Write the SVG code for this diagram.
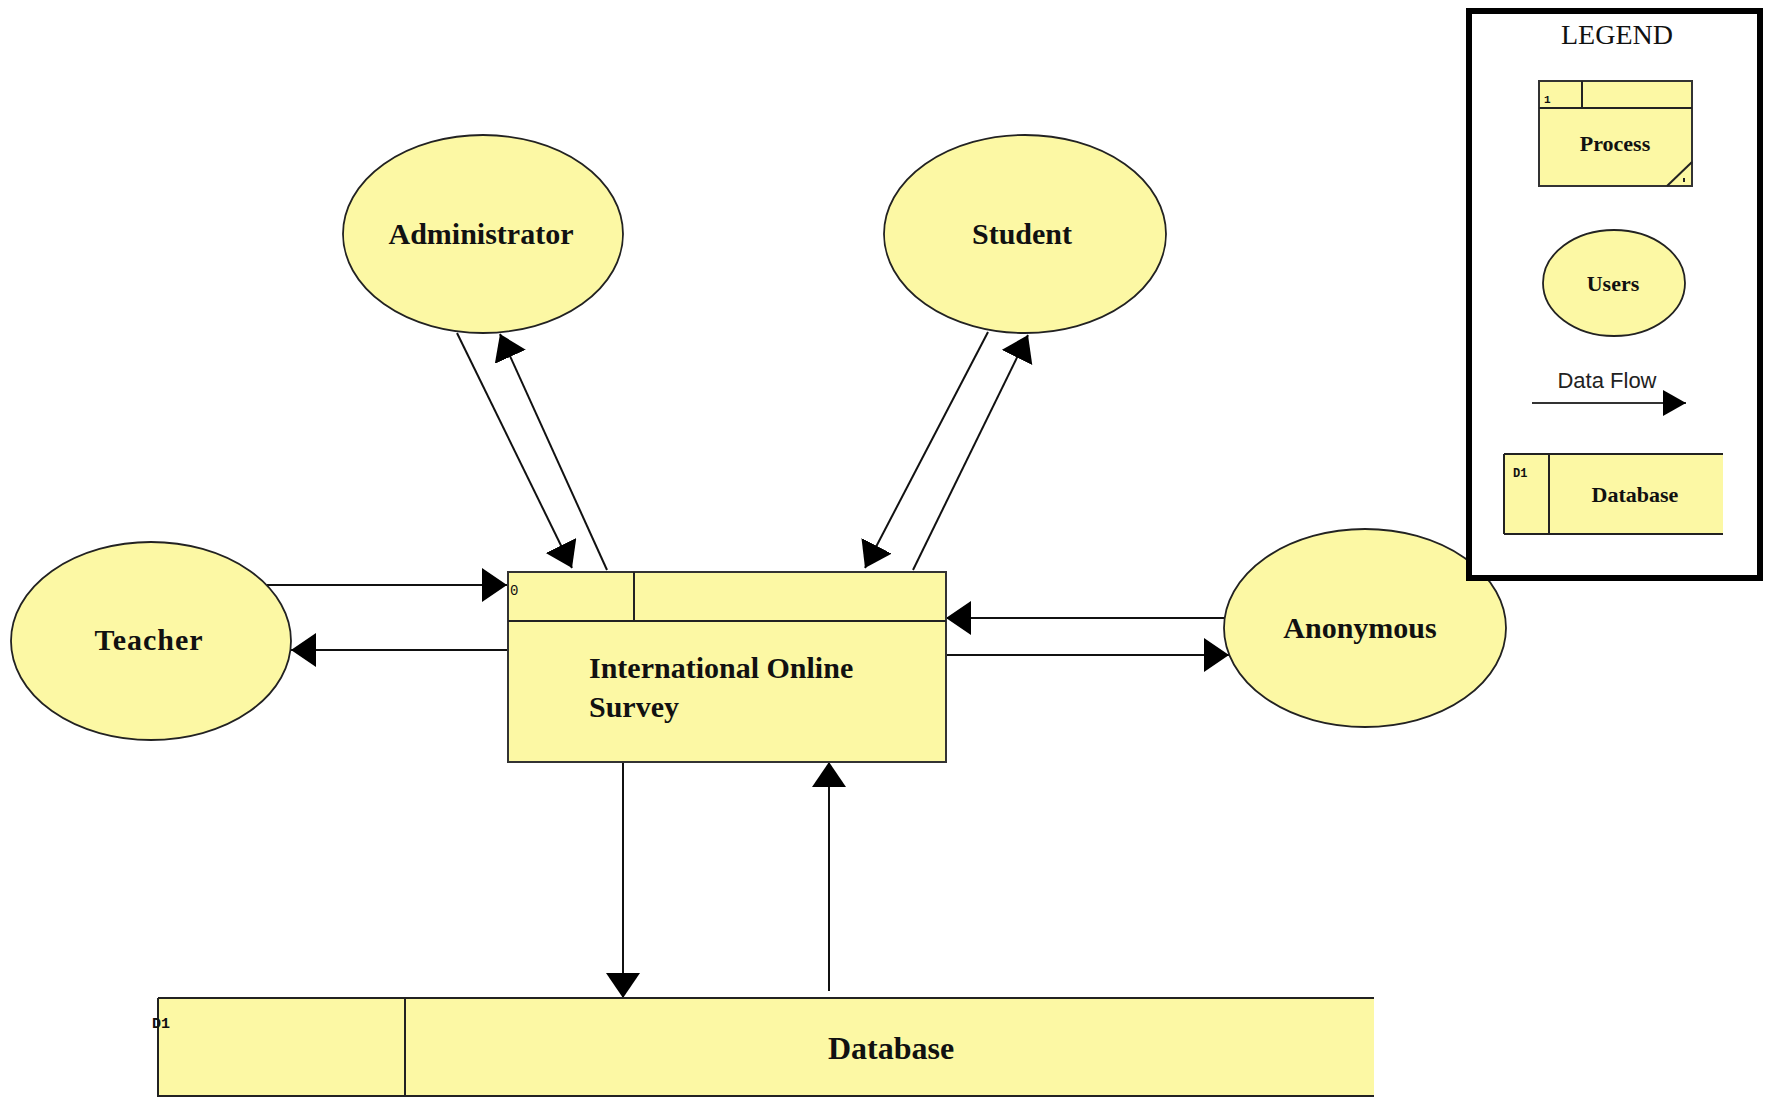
<svg xmlns="http://www.w3.org/2000/svg" width="1766" height="1097" viewBox="0 0 1766 1097">
<style>
.ent{fill:#FCF8A4;stroke:#222;stroke-width:1.8}
.box{fill:#FCF8A4;stroke:#333;stroke-width:2}
.ln{stroke:#222;stroke-width:2;fill:none}
.lbl{font-family:"Liberation Serif",serif;font-weight:bold;font-size:30px;fill:#111;text-anchor:middle}
.lg{font-family:"Liberation Serif",serif;font-weight:bold;font-size:22px;fill:#111;text-anchor:middle}
.mono{font-family:"Liberation Mono",monospace;fill:#111}
.flow{stroke:#111;stroke-width:2;fill:none;marker-end:url(#ah)}
</style>
<defs>
<marker id="ah" markerUnits="userSpaceOnUse" markerWidth="26" markerHeight="36" refX="25" refY="17" orient="auto">
<path d="M0,0 L25,17 L0,34 Z" fill="#000"/>
</marker>
<marker id="ahs" markerUnits="userSpaceOnUse" markerWidth="24" markerHeight="28" refX="23" refY="13" orient="auto">
<path d="M0,0 L23,13 L0,26 Z" fill="#000"/>
</marker>
</defs>
<rect width="1766" height="1097" fill="#fff"/>

<g id="connectors">
<line class="flow" x1="267" y1="585" x2="507" y2="585"/>
<line class="flow" x1="508" y1="650" x2="291" y2="650"/>
<line class="flow" x1="457" y1="333" x2="572" y2="568"/>
<line class="flow" x1="607" y1="570" x2="500" y2="334"/>
<line class="flow" x1="988" y1="332" x2="865" y2="568"/>
<line class="flow" x1="913" y1="570" x2="1028" y2="335"/>
<line class="flow" x1="1225" y1="618" x2="946" y2="618"/>
<line class="flow" x1="946" y1="655" x2="1229" y2="655"/>
<line class="flow" x1="623" y1="762" x2="623" y2="998"/>
<line class="flow" x1="829" y1="991" x2="829" y2="762"/>
</g>

<g id="administrator">
<ellipse class="ent" cx="483" cy="234" rx="140" ry="99"/>
<text class="lbl" x="481" y="244">Administrator</text>
</g>
<g id="student">
<ellipse class="ent" cx="1025" cy="234" rx="141" ry="99"/>
<text class="lbl" x="1022" y="244">Student</text>
</g>
<g id="teacher">
<ellipse class="ent" cx="151" cy="641" rx="140" ry="99"/>
<text class="lbl" x="149" y="650" letter-spacing="1">Teacher</text>
</g>
<g id="anonymous">
<ellipse class="ent" cx="1365" cy="628" rx="141" ry="99"/>
<text class="lbl" x="1360" y="638">Anonymous</text>
</g>

<g id="process">
<rect class="box" x="508" y="572" width="438" height="190"/>
<line class="ln" x1="508" y1="621" x2="946" y2="621"/>
<line class="ln" x1="634" y1="572" x2="634" y2="621"/>
<text class="mono" x="510" y="595" font-size="14">0</text>
<text class="lbl" x="589" y="678" text-anchor="start" style="text-anchor:start">International Online</text>
<text class="lbl" x="589" y="717" style="text-anchor:start">Survey</text>
</g>

<g id="database">
<rect x="158" y="998" width="1216" height="99" fill="#FCF8A4"/>
<line class="ln" x1="158" y1="998" x2="1374" y2="998"/>
<line class="ln" x1="158" y1="998" x2="158" y2="1097"/>
<line class="ln" x1="405" y1="998" x2="405" y2="1097"/>
<line class="ln" x1="158" y1="1096" x2="1374" y2="1096"/>
<text class="mono" x="152" y="1028" font-size="15" font-weight="bold">D1</text>
<text class="lbl" x="891" y="1059" font-size="32" style="font-size:32px">Database</text>
</g>

<g id="legend">
<rect x="1469" y="11" width="291" height="567" fill="#fff" stroke="#000" stroke-width="6"/>
<text x="1617" y="44" font-family="Liberation Serif, serif" font-size="28" fill="#111" text-anchor="middle">LEGEND</text>
<g id="legend-process">
<rect class="box" x="1539" y="81" width="153" height="105" stroke-width="1.8"/>
<line class="ln" x1="1539" y1="108" x2="1692" y2="108" stroke-width="1.8"/>
<line class="ln" x1="1582" y1="81" x2="1582" y2="108" stroke-width="1.8"/>
<text class="mono" x="1544" y="103" font-size="11" font-weight="bold">1</text>
<text class="lg" x="1615" y="151">Process</text>
<line class="ln" x1="1667" y1="186" x2="1692" y2="162" stroke-width="1.2"/>
<line class="ln" x1="1684" y1="178" x2="1684" y2="182" stroke-width="1"/>
</g>
<g id="legend-users">
<ellipse class="ent" cx="1614" cy="283" rx="71" ry="53"/>
<text class="lg" x="1613" y="291">Users</text>
</g>
<g id="legend-flow">
<text x="1607" y="388" font-family="Liberation Sans, sans-serif" font-size="22" fill="#222" text-anchor="middle">Data Flow</text>
<line x1="1532" y1="403" x2="1686" y2="403" stroke="#333" stroke-width="2" marker-end="url(#ahs)"/>
</g>
<g id="legend-database">
<rect x="1504" y="454" width="219" height="80" fill="#FCF8A4"/>
<line class="ln" x1="1504" y1="454" x2="1723" y2="454" stroke-width="1.8"/>
<line class="ln" x1="1504" y1="534" x2="1723" y2="534" stroke-width="1.8"/>
<line class="ln" x1="1504" y1="454" x2="1504" y2="534" stroke-width="1.8"/>
<line class="ln" x1="1549" y1="454" x2="1549" y2="534" stroke-width="1.8"/>
<text class="mono" x="1513" y="477" font-size="12" font-weight="bold">D1</text>
<text class="lg" x="1635" y="502">Database</text>
</g>
</g>
</svg>
